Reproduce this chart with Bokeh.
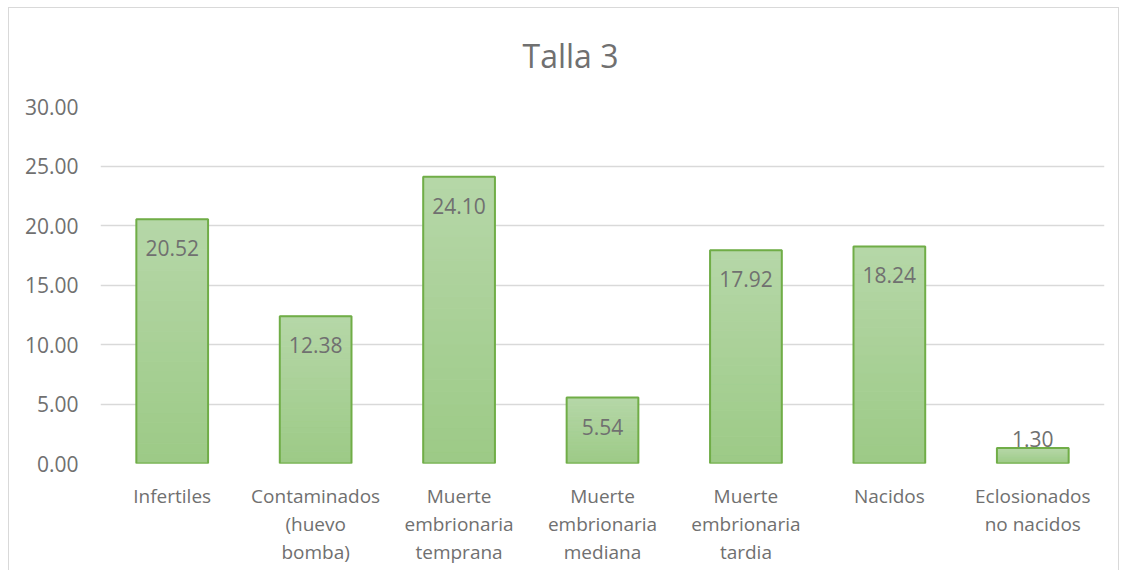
from bokeh.plotting import figure
from bokeh.models import FactorRange, NumeralTickFormatter, ColumnDataSource, FixedTicker, Range1d
from bokeh.core.properties import value
from bokeh.embed import file_html
from bokeh.resources import INLINE

categories = ["Infertiles", "Contaminados\n(huevo\nbomba)", "Muerte\nembrionaria\ntemprana",
              "Muerte\nembrionaria\nmediana", "Muerte\nembrionaria\ntardia", "Nacidos",
              "Eclosionados\nno nacidos"]
values = [20.52, 12.38, 24.10, 5.54, 17.92, 18.24, 1.30]
y_ticks = [0, 5, 10, 15, 20, 25, 30]
title_text = "Talla 3"

FONT = "Open Sans"
TEXT = "#707070"
GRID = "#d9d9d9"
TOP_RGB = (0xb6, 0xd7, 0xa8)
BOT_RGB = (0x9c, 0xca, 0x86)
N_BANDS = 24

# gradient fill bands, each derived from the bar's own value
bx, bb, bt, bc = [], [], [], []
for c, v in zip(categories, values):
    for k in range(N_BANDS):
        f = (k + 0.5) / N_BANDS
        rgb = tuple(round(BOT_RGB[j] + (TOP_RGB[j] - BOT_RGB[j]) * f) for j in range(3))
        bx.append(c)
        bb.append(v * k / N_BANDS)
        bt.append(v * (k + 1) / N_BANDS)
        bc.append("#%02x%02x%02x" % rgb)
bands = ColumnDataSource(dict(x=bx, bottom=bb, top=bt, color=bc))

labels = [f"{v:.2f}" for v in values]
offsets = [29 if v > 3 else -9 for v in values]
src = ColumnDataSource(dict(cat=categories, val=values, lab=labels, off=offsets))

p = figure(width=1119, height=570,
           x_range=FactorRange(*categories, range_padding=0),
           y_range=Range1d(0, 30),
           output_backend="svg", toolbar_location=None,
           min_border_left=100, min_border_right=15, min_border_top=106, min_border_bottom=107)

p.title.text = title_text
p.title.align = "left"
p.title.offset = 422
p.title.standoff = 60
p.title.text_font = FONT
p.title.text_font_size = "32px"
p.title.text_font_style = "normal"
p.title.text_color = TEXT

p.outline_line_color = None
p.border_fill_color = None
p.background_fill_color = "white"
p.styles = {
    "background-color": "white",
    "background-image": "linear-gradient(#d9d9d9,#d9d9d9), linear-gradient(#d9d9d9,#d9d9d9), linear-gradient(#d9d9d9,#d9d9d9)",
    "background-size": "1px 100%, 1111px 1px, 1px 100%",
    "background-position": "8px 7px, 8px 7px, 1118px 7px",
    "background-repeat": "no-repeat",
}

p.xgrid.grid_line_color = None
p.ygrid.grid_line_color = GRID
p.ygrid.grid_line_width = 1.5
p.ygrid.ticker = FixedTicker(ticks=y_ticks)

p.yaxis.ticker = FixedTicker(ticks=y_ticks)
p.yaxis.formatter = NumeralTickFormatter(format="0.00")
p.yaxis.axis_line_color = None
p.yaxis.major_tick_line_color = None
p.yaxis.minor_tick_line_color = None
p.yaxis.major_label_standoff = 16
p.yaxis.major_label_text_font = FONT
p.yaxis.major_label_text_font_size = "21px"
p.yaxis.major_label_text_color = TEXT

p.xaxis.axis_line_color = None
p.xaxis.major_tick_line_color = None
p.xaxis.major_label_standoff = 13
p.xaxis.major_label_text_font = FONT
p.xaxis.major_label_text_font_size = "19px"
p.xaxis.major_label_text_color = TEXT
p.xaxis.major_label_text_line_height = 1.08

p.vbar(x="x", bottom="bottom", top="top", width=0.5, source=bands,
       fill_color="color", line_color="color", line_width=1)
p.vbar(x="cat", top="val", width=0.5, source=src,
       fill_color=None, line_color="#70ad47", line_width=2)

p.text(x="cat", y="val", text="lab", source=src, text_align="center",
       text_baseline="alphabetic", y_offset="off",
       text_font=value(FONT), text_font_size="21px", text_color=TEXT)

open("out.html", "w").write(file_html(p, INLINE))
